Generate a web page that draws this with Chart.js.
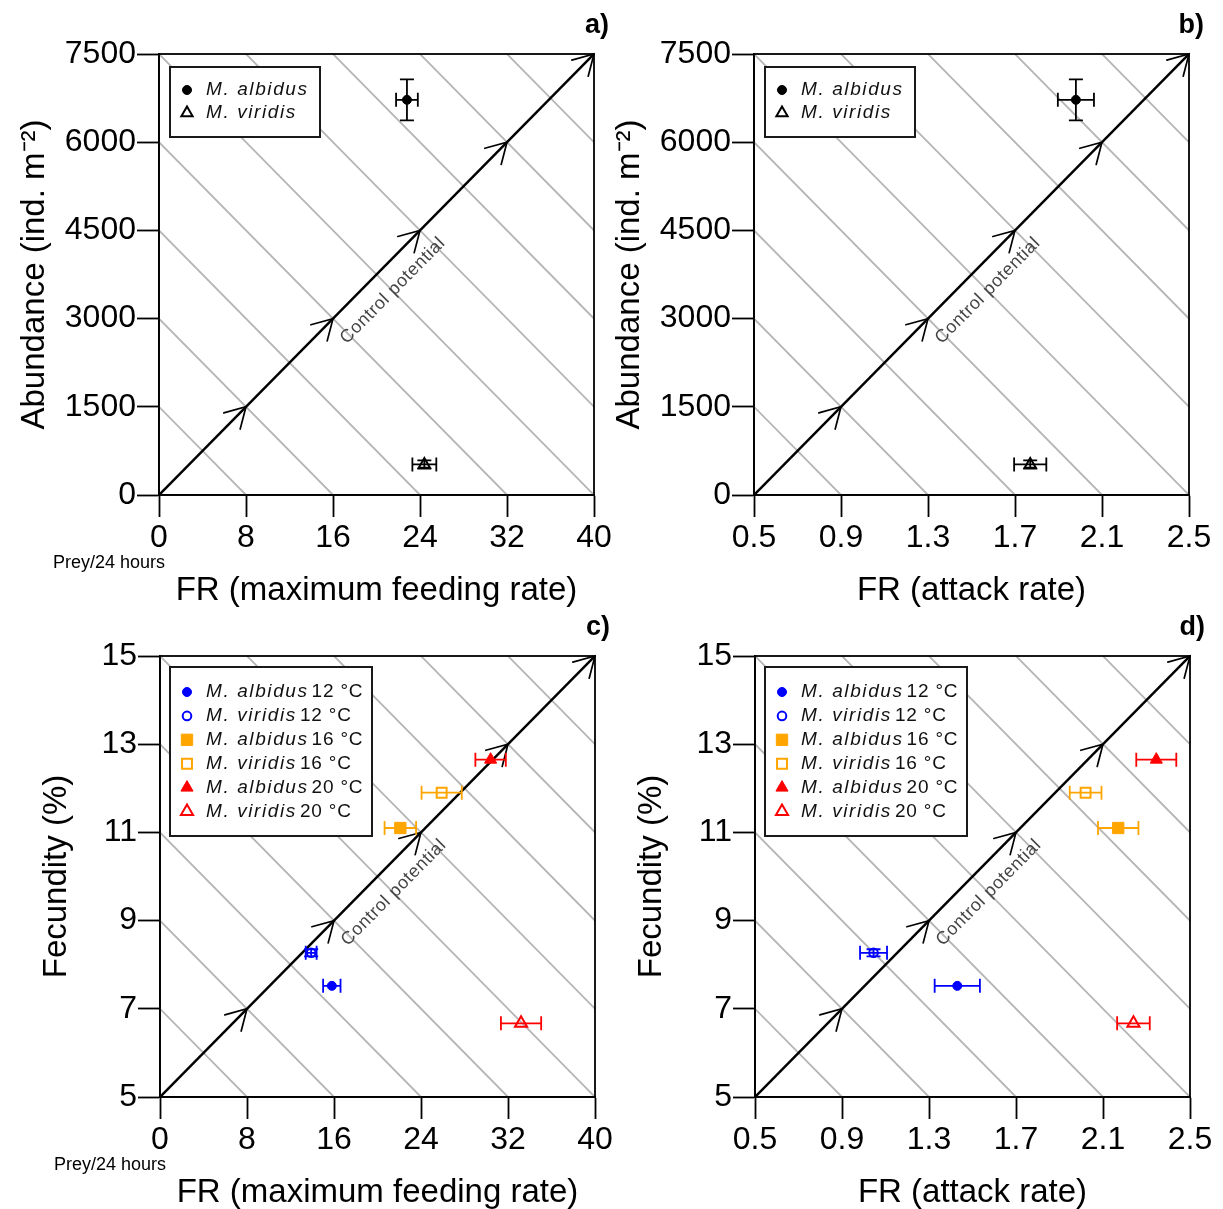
<!DOCTYPE html>
<html>
<head>
<meta charset="utf-8">
<script src="https://cdn.jsdelivr.net/npm/chart.js@4/dist/chart.umd.min.js"></script>
<style>
html,body{margin:0;padding:0;background:#fff;}
body{width:1223px;height:1209px;position:relative;overflow:hidden;}
canvas{position:absolute;}
</style>
</head>
<body>
<canvas id="ca" width="625" height="607" style="left:0px;top:0px"></canvas>
<canvas id="cb" width="625" height="607" style="left:595px;top:0px"></canvas>
<canvas id="cc" width="625" height="607" style="left:1px;top:602px"></canvas>
<canvas id="cd" width="625" height="607" style="left:596px;top:602px"></canvas>
<script>
// ---------- tick labels ----------
const feedTicks = [0, 8, 16, 24, 32, 40];
const attackTicks = [0.5, 0.9, 1.3, 1.7, 2.1, 2.5];
const abundanceTicks = [0, 1500, 3000, 4500, 6000, 7500];
const fecundityTicks = [5, 7, 9, 11, 13, 15];
// iso "control potential" guide lines (fraction of x-range + fraction of y-range)
const isoLevels = [0.2, 0.4, 0.6, 0.8, 1.0, 1.2, 1.4, 1.6, 1.8];

// ---------- panels a & b ----------
const speciesAB = ['M. albidus', 'M. viridis'];
const abundance = [6720, 520];
const abundanceErr = [350, 70];
const maxFeed = [22.8, 24.4];
const maxFeedErr = [1.0, 1.1];
const attack = [1.98, 1.77];
const attackErr = [0.083, 0.074];

// ---------- panels c & d ----------
const groupSpecies = ['M. albidus', 'M. viridis', 'M. albidus', 'M. viridis', 'M. albidus', 'M. viridis'];
const groupTemp = ['12 °C', '12 °C', '16 °C', '16 °C', '20 °C', '20 °C'];
const fecundity = [7.52, 8.27, 11.1, 11.9, 12.65, 6.67];
const fecundityErr = [0, 0.08, 0, 0, 0, 0];
const maxFeedT = [15.8, 13.9, 22.1, 25.9, 30.4, 33.2];
const maxFeedTErr = [0.8, 0.5, 1.45, 1.85, 1.4, 1.85];
const attackT = [1.43, 1.045, 2.17, 2.02, 2.345, 2.24];
const attackTErr = [0.104, 0.062, 0.093, 0.073, 0.092, 0.075];

// ---------- styles ----------
const FONT = "'Liberation Sans', Arial, Helvetica, sans-serif";
const abColors = ['#000000', '#000000'];
const abShapes = ['circle', 'triangle'];
const abFilled = [true, false];
const abRadius = [4.5, 6.5];
const groupColors = ['#0000FF', '#0000FF', '#FFA500', '#FFA500', '#FF0000', '#FF0000'];
const groupShapes = ['circle', 'circle', 'rect', 'rect', 'triangle', 'triangle'];
const groupFilled = [true, false, true, false, true, false];
const groupRadius = [4.5, 4.3, 8, 7, 7, 7];

function drawMarker(ctx, shape, x, y, r, color, filled, lw) {
  ctx.save();
  ctx.beginPath();
  if (shape === 'circle') {
    ctx.arc(x, y, r, 0, Math.PI * 2);
  } else if (shape === 'rect') {
    const s = Math.SQRT1_2 * r;
    ctx.rect(x - s, y - s, 2 * s, 2 * s);
  } else {
    let a = 0;
    ctx.moveTo(x + Math.sin(a) * r, y - Math.cos(a) * r);
    a += 2 * Math.PI / 3;
    ctx.lineTo(x + Math.sin(a) * r, y - Math.cos(a) * r);
    a += 2 * Math.PI / 3;
    ctx.lineTo(x + Math.sin(a) * r, y - Math.cos(a) * r);
    ctx.closePath();
  }
  if (filled) { ctx.fillStyle = color; ctx.fill(); }
  ctx.lineWidth = lw; ctx.strokeStyle = color; ctx.stroke();
  ctx.restore();
}

function makePanel(canvasId, p) {
  const xMin = p.xTicks[0], xMax = p.xTicks[p.xTicks.length - 1];
  const yMin = p.yTicks[0], yMax = p.yTicks[p.yTicks.length - 1];
  const datasets = [];
  p.points.forEach(pt => {
    datasets.push({
      type: 'scatter', label: pt.label, data: [{x: pt.x, y: pt.y}],
      pointStyle: pt.shape, pointRadius: pt.r, pointHoverRadius: pt.r,
      pointBackgroundColor: pt.filled ? pt.color : 'rgba(0,0,0,0)',
      pointBorderColor: pt.color, pointBorderWidth: pt.filled ? 1 : 2,
      showLine: false, order: 0, clip: false,
      errX: [pt.ex], errY: [pt.ey], errColor: pt.color
    });
  });
  // diagonal control-potential line
  datasets.push({
    type: 'scatter', data: [{x: xMin, y: yMin}, {x: xMax, y: yMax}],
    showLine: true, borderColor: '#000', borderWidth: 2.5, pointRadius: 0, order: 1, clip: 0
  });
  // grey iso-lines
  isoLevels.forEach(k => {
    datasets.push({
      type: 'scatter',
      data: [{x: xMin, y: yMin + k * (yMax - yMin)}, {x: xMin + k * (xMax - xMin), y: yMin}],
      showLine: true, borderColor: '#b5b5b5', borderWidth: 1.8, pointRadius: 0, order: 2, clip: 0
    });
  });

  const overlay = {
    id: 'overlay_' + canvasId,
    afterDatasetsDraw(chart) {
      const ctx = chart.ctx, xs = chart.scales.x, ys = chart.scales.y, ca = chart.chartArea;
      // arrowheads
      const x0 = xs.getPixelForValue(xMin), y0 = ys.getPixelForValue(yMin);
      ctx.save();
      ctx.strokeStyle = '#000'; ctx.lineWidth = 1.7; ctx.lineCap = 'round';
      p.xTicks.slice(1).forEach((v, i) => {
        const px = xs.getPixelForValue(v), py = ys.getPixelForValue(p.yTicks[i + 1]);
        const ang = Math.atan2(py - y0, px - x0);
        const L = 23, w = Math.PI / 6;
        ctx.beginPath();
        ctx.moveTo(px - L * Math.cos(ang - w), py - L * Math.sin(ang - w));
        ctx.lineTo(px, py);
        ctx.lineTo(px - L * Math.cos(ang + w), py - L * Math.sin(ang + w));
        ctx.stroke();
      });
      ctx.restore();
      // "Control potential" label
      const x1 = xs.getPixelForValue(xMax), y1 = ys.getPixelForValue(yMax);
      ctx.save();
      ctx.translate((x0 + x1) / 2, (y0 + y1) / 2);
      ctx.rotate(Math.atan2(y1 - y0, x1 - x0));
      ctx.font = '18px ' + FONT;
      try { ctx.letterSpacing = '0.6px'; } catch (e) {}
      ctx.fillStyle = '#454545'; ctx.textAlign = 'center'; ctx.textBaseline = 'middle';
      ctx.fillText('Control potential', 0, 23);
      ctx.restore();
      // error bars
      ctx.save();
      ctx.lineWidth = 1.8;
      chart.data.datasets.forEach(ds => {
        if (!ds.errX) return;
        ds.data.forEach((pt, j) => {
          const px = xs.getPixelForValue(pt.x), py = ys.getPixelForValue(pt.y);
          const cap = 7;
          ctx.strokeStyle = ds.errColor;
          const ex = ds.errX[j], ey = ds.errY[j];
          if (ex > 0) {
            const a = xs.getPixelForValue(pt.x - ex), b = xs.getPixelForValue(pt.x + ex);
            ctx.beginPath();
            ctx.moveTo(a, py); ctx.lineTo(b, py);
            ctx.moveTo(a, py - cap); ctx.lineTo(a, py + cap);
            ctx.moveTo(b, py - cap); ctx.lineTo(b, py + cap);
            ctx.stroke();
          }
          if (ey > 0) {
            const a = ys.getPixelForValue(pt.y - ey), b = ys.getPixelForValue(pt.y + ey);
            ctx.beginPath();
            ctx.moveTo(px, a); ctx.lineTo(px, b);
            ctx.moveTo(px - cap, a); ctx.lineTo(px + cap, a);
            ctx.moveTo(px - cap, b); ctx.lineTo(px + cap, b);
            ctx.stroke();
          }
        });
      });
      ctx.restore();
      // frame
      ctx.save();
      ctx.strokeStyle = '#000'; ctx.lineWidth = 1.8;
      ctx.strokeRect(ca.left, ca.top, ca.right - ca.left, ca.bottom - ca.top);
      ctx.restore();
    },
    afterDraw(chart) {
      const ctx = chart.ctx, ca = chart.chartArea;
      // legend
      const L = p.legend;
      const bx = ca.left + L.dx, by = ca.top + L.dy;
      ctx.save();
      ctx.fillStyle = '#fff';
      ctx.fillRect(bx, by, L.w, L.h);
      ctx.strokeStyle = '#1a1a1a'; ctx.lineWidth = 2;
      ctx.strokeRect(bx, by, L.w, L.h);
      p.points.forEach((pt, i) => {
        const ry = by + L.first + i * L.step;
        drawMarker(ctx, pt.shape, bx + 17, ry, pt.lr, pt.color, pt.filled, pt.filled ? 1 : 2);
        ctx.fillStyle = '#111';
        ctx.textAlign = 'left'; ctx.textBaseline = 'middle';
        ctx.font = 'italic 19px ' + FONT;
        try { ctx.letterSpacing = '1.6px'; } catch (e) {}
        ctx.fillText(pt.species, bx + 36, ry);
        if (pt.temp) {
          const w = ctx.measureText(pt.species).width;
          ctx.font = '19px ' + FONT;
          try { ctx.letterSpacing = '0.8px'; } catch (e) {}
          ctx.fillText(pt.temp, bx + 36 + w + 3, ry);
        }
      });
      ctx.restore();
      // panel letter
      ctx.save();
      try { ctx.letterSpacing = '0px'; } catch (e) {}
      ctx.font = 'bold 27px ' + FONT;
      ctx.fillStyle = '#000'; ctx.textAlign = 'right'; ctx.textBaseline = 'middle';
      ctx.fillText(p.letter, 609, 26);
      if (p.prey) {
        ctx.font = '18px ' + FONT;
        ctx.textAlign = 'left';
        ctx.fillText(p.prey, 53, 563);
      }
      ctx.restore();
    }
  };

  const tickFont = {family: FONT, size: 32, lineHeight: 1.2};
  const titleFont = {family: FONT, size: 33, lineHeight: 1};
  const gridOpts = {display: true, drawOnChartArea: false, drawTicks: true, tickLength: 22, tickWidth: 1.8, tickColor: '#000'};

  return new Chart(document.getElementById(canvasId), {
    type: 'scatter',
    data: {datasets},
    plugins: [overlay],
    options: {
      responsive: false, animation: false, events: [],
      layout: {padding: {left: 0, top: 54, right: 31, bottom: 0}},
      plugins: {legend: {display: false}, tooltip: {enabled: false}},
      scales: {
        x: {
          type: 'linear', position: 'bottom', min: xMin, max: xMax,
          afterBuildTicks: s => { s.ticks = p.xTicks.map(v => ({value: v})); },
          afterFit: s => { s.height = 112; },
          grid: gridOpts,
          border: {display: true, color: '#000', width: 1.8},
          ticks: {font: tickFont, color: '#000', padding: 2, maxRotation: 0, autoSkip: false, callback: v => String(v)},
          title: {display: true, text: p.xTitle, font: titleFont, color: '#000', padding: {top: 0, bottom: 0}}
        },
        y: {
          type: 'linear', position: 'left', min: yMin, max: yMax,
          afterBuildTicks: s => { s.ticks = p.yTicks.map(v => ({value: v})); },
          afterFit: s => { s.width = 159; },
          grid: gridOpts,
          border: {display: true, color: '#000', width: 1.8},
          ticks: {font: tickFont, color: '#000', padding: 1, autoSkip: false, callback: v => String(v)},
          title: {display: true, text: p.yTitle, font: titleFont, color: '#000', padding: {top: p.yTitlePad, bottom: 0}}
        }
      }
    }
  });
}

function abPoints(xs, xe) {
  return speciesAB.map((s, i) => ({
    label: s, species: s, temp: '', x: xs[i], y: abundance[i], ex: xe[i], ey: abundanceErr[i],
    color: abColors[i], shape: abShapes[i], filled: abFilled[i], r: abRadius[i], lr: abRadius[i]
  }));
}
function cdPoints(xs, xe) {
  return groupSpecies.map((s, i) => ({
    label: s + ' ' + groupTemp[i], species: s, temp: groupTemp[i], x: xs[i], y: fecundity[i],
    ex: xe[i], ey: fecundityErr[i], color: groupColors[i], shape: groupShapes[i],
    filled: groupFilled[i], r: groupRadius[i], lr: groupRadius[i]
  }));
}

const legendAB = {dx: 11, dy: 13, w: 150, h: 70, first: 23, step: 23};
const legendCD = {dx: 10, dy: 11, w: 202, h: 169, first: 25, step: 23.9};

makePanel('ca', {xTicks: feedTicks, yTicks: abundanceTicks, xTitle: 'FR (maximum feeding rate)',
  yTitle: 'Abundance (ind. m⁻²)', yTitlePad: 18, letter: 'a)', prey: 'Prey/24 hours',
  points: abPoints(maxFeed, maxFeedErr), legend: legendAB});
makePanel('cb', {xTicks: attackTicks, yTicks: abundanceTicks, xTitle: 'FR (attack rate)',
  yTitle: 'Abundance (ind. m⁻²)', yTitlePad: 18, letter: 'b)', prey: '',
  points: abPoints(attack, attackErr), legend: legendAB});
makePanel('cc', {xTicks: feedTicks, yTicks: fecundityTicks, xTitle: 'FR (maximum feeding rate)',
  yTitle: 'Fecundity (%)', yTitlePad: 39, letter: 'c)', prey: 'Prey/24 hours',
  points: cdPoints(maxFeedT, maxFeedTErr), legend: legendCD});
makePanel('cd', {xTicks: attackTicks, yTicks: fecundityTicks, xTitle: 'FR (attack rate)',
  yTitle: 'Fecundity (%)', yTitlePad: 39, letter: 'd)', prey: '',
  points: cdPoints(attackT, attackTErr), legend: legendCD});
</script>
</body>
</html>
